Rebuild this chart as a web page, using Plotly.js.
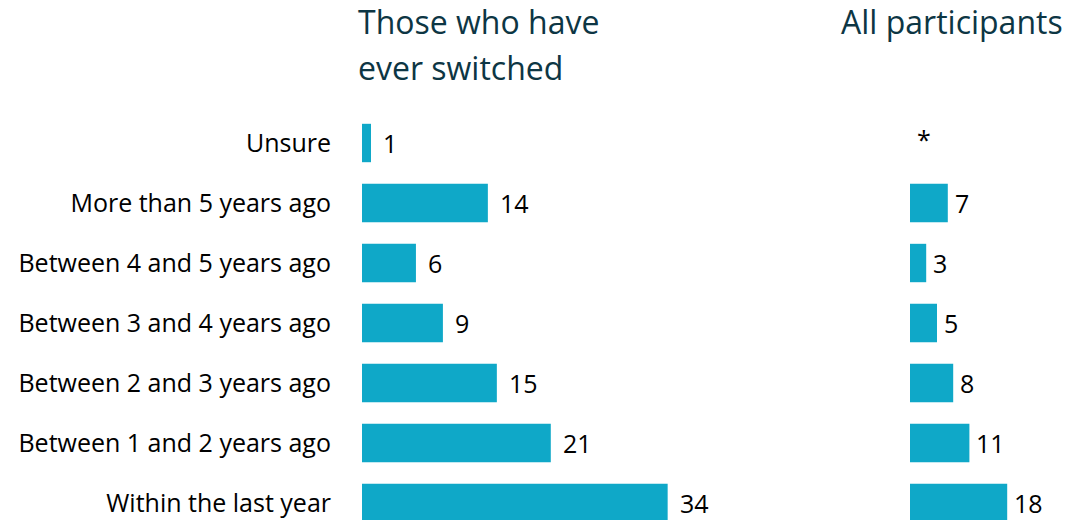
<!DOCTYPE html>
<html>
<head>
<meta charset="utf-8">
<script src="https://cdn.plot.ly/plotly-3.0.1.min.js"></script>
<style>html,body{margin:0;padding:0;background:#fff;}#chart{width:1074px;height:520px;}</style>
</head>
<body>
<div id="chart"></div>
<script>
const categories = ['Unsure', 'More than 5 years ago', 'Between 4 and 5 years ago', 'Between 3 and 4 years ago', 'Between 2 and 3 years ago', 'Between 1 and 2 years ago', 'Within the last year'];
const switchedValues = [1, 14, 6, 9, 15, 21, 34];
const switchedLabels = ['1', '14', '6', '9', '15', '21', '34'];
const allValues = [0, 7, 3, 5, 8, 11, 18];
const allLabels = ['*', '7', '3', '5', '8', '11', '18'];
const titleLeftLines = ['Those who have', 'ever switched'];
const titleRight = 'All participants';

const W = 1074;
const barColor = '#0FA8C8';
const labelFont = {family: 'Open Sans, sans-serif', size: 25, color: '#000000'};
const titleFont = {family: 'Open Sans, sans-serif', size: 32, color: '#0D3644'};

const traces = [
  {type: 'bar', orientation: 'h', y: categories, x: switchedValues, xaxis: 'x', yaxis: 'y',
   marker: {color: barColor}, width: 0.64, hoverinfo: 'skip'},
  {type: 'bar', orientation: 'h', y: categories, x: allValues, xaxis: 'x2', yaxis: 'y2',
   marker: {color: barColor}, width: 0.64, hoverinfo: 'skip'}
];

const annotations = [];
categories.forEach((c, i) => {
  annotations.push({x: switchedValues[i], y: c, xref: 'x', yref: 'y', text: switchedLabels[i],
    showarrow: false, xanchor: 'left', yanchor: 'middle', xshift: 10, font: labelFont});
  annotations.push({x: allValues[i], y: c, xref: 'x2', yref: 'y2', text: allLabels[i],
    showarrow: false, xanchor: 'left', yanchor: 'middle', xshift: 5, yshift: allLabels[i] === '*' ? 4 : 0, font: labelFont});
});
annotations.push({x: 356 / W, y: 1, xref: 'paper', yref: 'paper', yanchor: 'middle', xanchor: 'left',
  text: titleLeftLines[0], showarrow: false, yshift: 92, font: titleFont});
annotations.push({x: 356 / W, y: 1, xref: 'paper', yref: 'paper', yanchor: 'middle', xanchor: 'left',
  text: titleLeftLines[1], showarrow: false, yshift: 46, font: titleFont});
annotations.push({x: 839 / W, y: 1, xref: 'paper', yref: 'paper', yanchor: 'middle', xanchor: 'left',
  text: titleRight, showarrow: false, yshift: 92, font: titleFont});

const yRange = [6.283, -0.5];
const layout = {
  width: 1074, height: 520,
  margin: {l: 0, r: 0, t: 113, b: 0},
  paper_bgcolor: '#ffffff', plot_bgcolor: '#ffffff',
  showlegend: false,
  xaxis: {domain: [362 / W, 800 / W], range: [0, 438 / 8.99], visible: false, fixedrange: true},
  yaxis: {anchor: 'x', range: yRange, showgrid: false, zeroline: false, showline: false, ticks: '',
    ticklabelstandoff: 30, tickfont: labelFont, fixedrange: true},
  xaxis2: {domain: [910 / W, 1], range: [0, 164 / 5.4], visible: false, fixedrange: true},
  yaxis2: {anchor: 'x2', range: yRange, showticklabels: false, showgrid: false, zeroline: false, showline: false, ticks: '', fixedrange: true},
  annotations: annotations
};

Plotly.newPlot('chart', traces, layout, {displayModeBar: false, staticPlot: true});
</script>
</body>
</html>
